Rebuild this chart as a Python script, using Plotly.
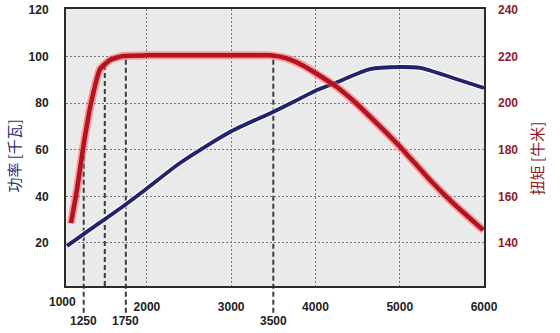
import numpy as np
import plotly.graph_objects as go

# ---- data ----
rpm_power = [1052, 1265, 1740, 1977, 2393, 2986, 3496, 3781, 4018, 4256, 4647, 5003, 5241, 5632, 6000]
power_kw = [18.7, 24.2, 36.3, 42.7, 54.3, 67.6, 76.2, 81.3, 85.6, 89.0, 94.6, 95.5, 95.1, 90.8, 86.5]

rpm_torque = [1099, 1171, 1242, 1337, 1443, 1562, 1716, 2000, 2500, 3000, 3461, 3650, 3850, 4015,
              4250, 4450, 4647, 5003, 5359, 5636, 5992]
torque_nm = [148.5, 163.0, 180.5, 200.0, 214.5, 218.5, 220.2, 220.5, 220.5, 220.5, 220.5, 219.3,
             216.2, 212.6, 207.0, 201.0, 194.2, 181.3, 167.0, 157.0, 145.5]

x_tick_vals = [2000, 3000, 4000, 5000, 6000]
x_first_label = 1000
marked_rpm = [1250, 1750, 3500]      # labelled drop lines
unlabelled_rpm = [1500]               # drop line without label
left_ticks = [20, 40, 60, 80, 100, 120]
right_ticks = [140, 160, 180, 200, 220, 240]

left_title = "功率 [千瓦]"
right_title = "扭矩 [牛米]"

X_RANGE = [1040, 6000]
Y1_RANGE = [1.5, 120.4]
Y2_RANGE = [121.5, 240.4]

RED = "#b3121f"
BLUE = "#23236b"
DARK_RED_TXT = "#8e1b2c"
TICK_FONT = dict(family="Liberation Sans, Arial", size=12, color="#222", weight="bold")


def xpaper(v):
    return (v - X_RANGE[0]) / (X_RANGE[1] - X_RANGE[0])


def y2paper(v):
    return (v - Y2_RANGE[0]) / (Y2_RANGE[1] - Y2_RANGE[0])


fig = go.Figure()

# power (left axis)
fig.add_trace(go.Scatter(x=rpm_power, y=power_kw, mode="lines", yaxis="y",
                         line=dict(color="rgba(255,255,255,0.7)", width=6.5, shape="spline", smoothing=0.7),
                         hoverinfo="skip", showlegend=False))
fig.add_trace(go.Scatter(x=rpm_power, y=power_kw, mode="lines", yaxis="y",
                         line=dict(color=BLUE, width=3.8, shape="spline", smoothing=0.7),
                         showlegend=False))
# torque (right axis)
fig.add_trace(go.Scatter(x=rpm_torque, y=torque_nm, mode="lines", yaxis="y2",
                         line=dict(color="rgba(255,90,90,0.55)", width=8, shape="spline", smoothing=0.5),
                         hoverinfo="skip", showlegend=False))
fig.add_trace(go.Scatter(x=rpm_torque, y=torque_nm, mode="lines", yaxis="y2",
                         line=dict(color=RED, width=4.5, shape="spline", smoothing=0.5),
                         showlegend=False))

shapes = []
for r in marked_rpm + unlabelled_rpm:
    t = float(np.interp(r, rpm_torque, torque_nm))
    bottom = -0.097 if r in marked_rpm else 0
    shapes.append(dict(type="line", xref="x", yref="paper", x0=r, x1=r,
                       y0=bottom, y1=y2paper(t), layer="below",
                       line=dict(color="#3c3c3c", width=2, dash="5px,3px")))

annotations = []
for r in marked_rpm:
    annotations.append(dict(x=r, y=-0.126, xref="x", yref="paper", text=str(r), showarrow=False,
                            xanchor="center", yanchor="middle", font=TICK_FONT))
annotations.append(dict(x=xpaper(x_first_label), y=-0.058, xref="paper", yref="paper",
                        text=str(x_first_label), showarrow=False, xanchor="center", yanchor="middle",
                        font=TICK_FONT))
annotations.append(dict(x=-0.125, y=0.47, xref="paper", yref="paper", text=left_title, textangle=-90,
                        showarrow=False, xanchor="center", yanchor="middle",
                        font=dict(family="Noto Sans CJK SC", size=15, color="#2b2f78")))
annotations.append(dict(x=1.126, y=0.46, xref="paper", yref="paper", text=right_title, textangle=-90,
                        showarrow=False, xanchor="center", yanchor="middle",
                        font=dict(family="Noto Sans CJK SC", size=15, color=DARK_RED_TXT)))

fig.update_layout(
    width=560, height=333,
    margin=dict(l=66, r=76, t=9, b=47),
    paper_bgcolor="white",
    plot_bgcolor="#eaeaea",
    shapes=shapes,
    annotations=annotations,
    xaxis=dict(range=X_RANGE, tickvals=x_tick_vals, ticktext=[str(v) for v in x_tick_vals],
               showgrid=True, gridcolor="#7a7a7a", griddash="2px,2px", gridwidth=1,
               showline=True, mirror=True, linecolor="#2b2b2b", linewidth=2,
               ticks="", ticklabelstandoff=9, zeroline=False, automargin=False,
               tickfont=TICK_FONT),
    yaxis=dict(range=Y1_RANGE, tickvals=left_ticks, showgrid=True, gridcolor="#7a7a7a",
               griddash="2px,2px", gridwidth=1,
               showline=True, mirror=True, linecolor="#2b2b2b", linewidth=2,
               ticks="", ticklabelstandoff=13, zeroline=False, automargin=False,
               tickfont=TICK_FONT),
    yaxis2=dict(range=Y2_RANGE, tickvals=right_ticks, overlaying="y", side="right",
                showgrid=False, zeroline=False, showline=False, ticks="", ticklabelstandoff=13,
                automargin=False,
                tickfont=dict(family="Liberation Sans, Arial", size=12, color=DARK_RED_TXT, weight="bold")),
)

fig.write_html("out.html", config={"displayModeBar": False},
               post_script="document.body.style.margin='0';document.body.style.overflow='hidden';")
